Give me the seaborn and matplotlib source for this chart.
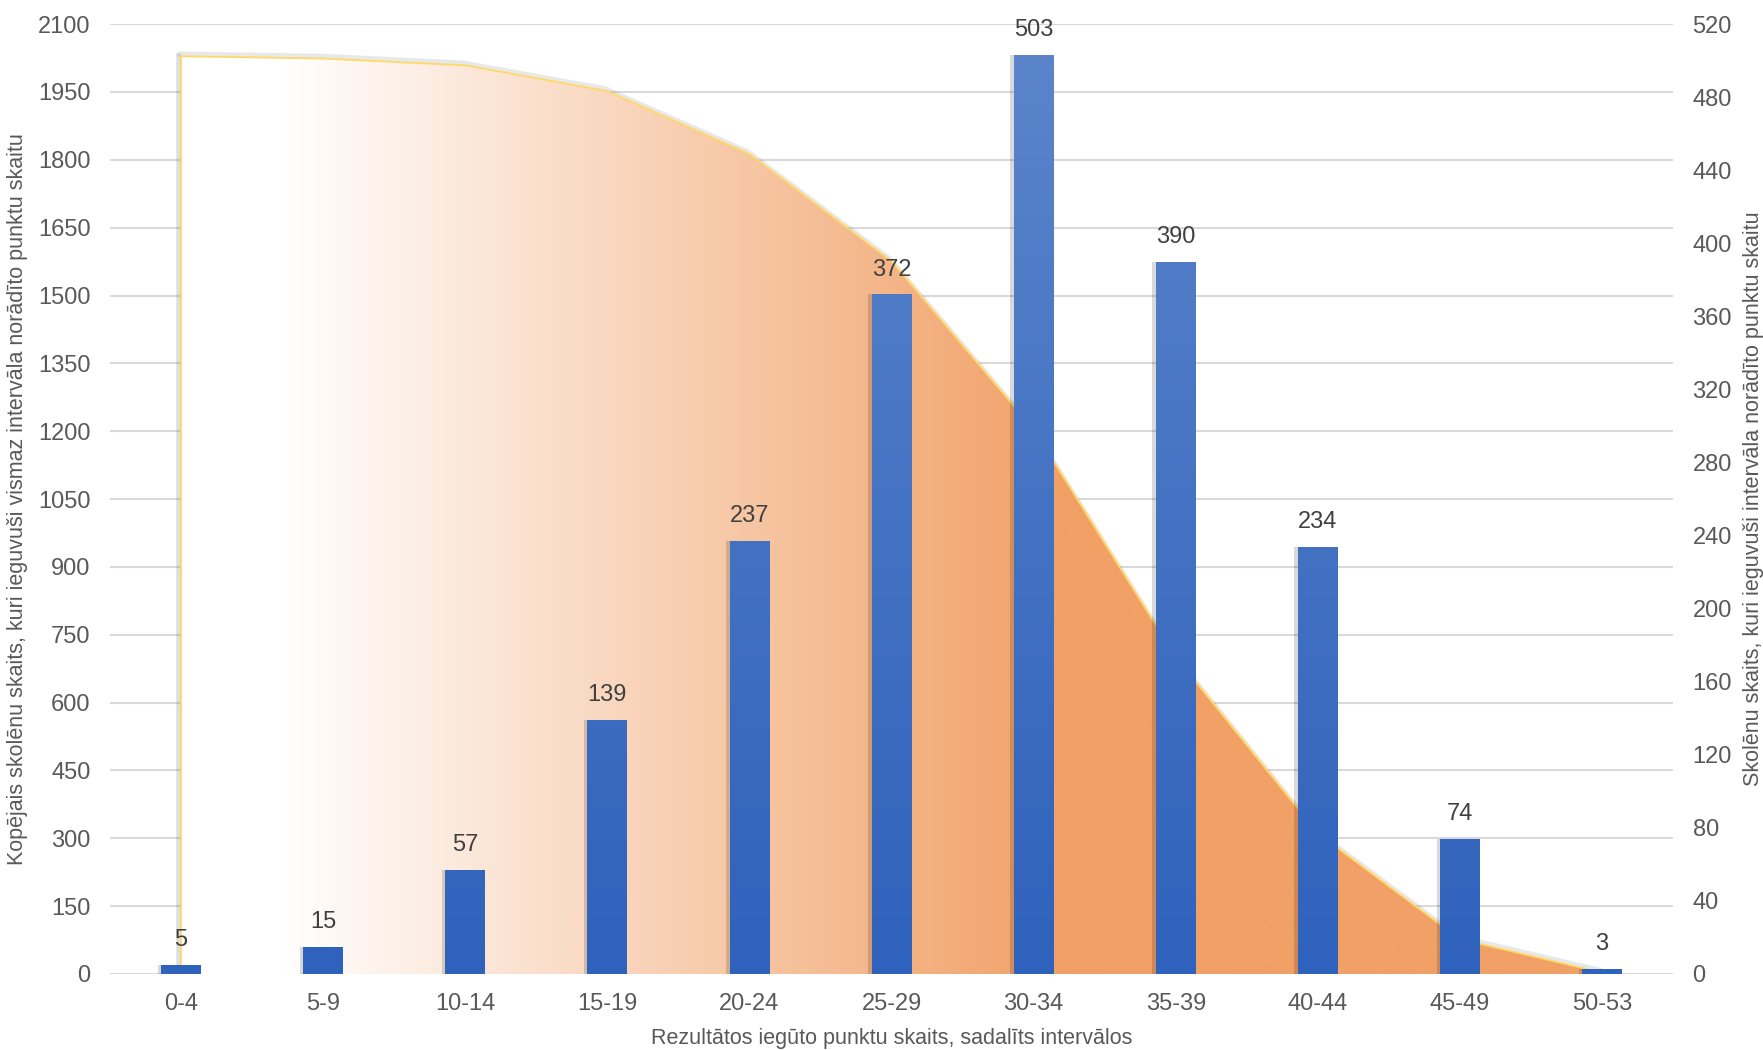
import numpy as np
import matplotlib
matplotlib.use("Agg")
import matplotlib.pyplot as plt
import matplotlib.patheffects as pe
from matplotlib.colors import to_rgb
import seaborn as sns

# --- chart data ---
categories = ["0-4", "5-9", "10-14", "15-19", "20-24", "25-29",
              "30-34", "35-39", "40-44", "45-49", "50-53"]
counts = [5, 15, 57, 139, 237, 372, 503, 390, 234, 74, 3]
at_least = [2029, 2024, 2009, 1952, 1813, 1576, 1204, 701, 311, 77, 3]

left_ticks = list(range(0, 2101, 150))
right_ticks = list(range(0, 521, 40))

left_label = "Kopējais skolēnu skaits, kuri ieguvuši vismaz intervāla norādīto punktu skaitu"
right_label = "Skolēnu skaits, kuri ieguvuši intervāla norādīto punktu skaitu"
x_label = "Rezultātos iegūto punktu skaits, sadalīts intervālos"

TXT = "#595959"

sns.set_style("white")
plt.rcParams['font.family'] = ['Liberation Sans Narrow', 'Liberation Sans', 'DejaVu Sans']

fig, ax = plt.subplots(figsize=(17.63, 10.5), dpi=100)
fig.subplots_adjust(left=0.0624, right=0.949, top=0.977, bottom=0.0724)
ax2 = ax.twinx()

xpos = np.arange(len(categories))

# --- cumulative area (left axis) with horizontal gradient ---
ax.set_xlim(-0.5, len(categories) - 0.5)
ax.set_ylim(0, 2100)

# soft shadow under the edge
ax.plot(xpos, at_least, color="none", zorder=1,
        path_effects=[pe.SimpleLineShadow(offset=(-1.5, 1.5), shadow_color="gray",
                                          alpha=0.18, linewidth=4)])
ax.plot([0, 0], [0, at_least[0]], color="none", zorder=1,
        path_effects=[pe.SimpleLineShadow(offset=(-1.5, 0), shadow_color="gray",
                                          alpha=0.25, linewidth=4)])

poly = ax.fill_between(xpos, 0, at_least, facecolor="none", edgecolor="none", zorder=2)

white = np.array(to_rgb("#FFFFFF"))
orange = np.array(to_rgb("#F1A066"))
gx = np.linspace(-0.5, len(categories) - 0.5, 600)
t = np.clip((gx - 0.7) / (6.2 - 0.7), 0, 1)[:, None]
grad = (white * (1 - t) + orange * t)[None, :, :]
im = ax.imshow(grad, extent=[-0.5, len(categories) - 0.5, 0, 2100],
               aspect="auto", origin="lower", zorder=2, interpolation="bilinear")
im.set_clip_path(poly.get_paths()[0], transform=ax.transData)

ax.plot(xpos, at_least, color="#FFD966", lw=1.3, zorder=3)
ax.plot([0, 0], [0, at_least[0]], color="#FFD966", lw=1.3, zorder=3)

ax.set_yticks(left_ticks)
ax.yaxis.grid(True, color="#D9D9D9", lw=1.5, zorder=0)
ax.set_axisbelow(True)

# --- bars (right axis) ---
sns.barplot(x=categories, y=counts, order=categories, color="#4472C4",
            width=0.28, linewidth=0, ax=ax2, zorder=3)
ax2.set_ylim(0, 520)
ax2.set_yticks(right_ticks)
ax2.grid(False)

top_c = np.array(to_rgb("#5C85CB"))
bot_c = np.array(to_rgb("#2F62BC"))
vt = np.linspace(0, 1, 256)[:, None]
bar_grad = (bot_c * (1 - vt) + top_c * vt)[:, None, :]
for p in ax2.patches:
    p.set_edgecolor("none")
    p.set_path_effects([pe.SimplePatchShadow(offset=(-2.5, 0), shadow_rgbFace="black",
                                             alpha=0.15), pe.Normal()])
    x0, w = p.get_x(), p.get_width()
    bim = ax2.imshow(bar_grad, extent=[x0, x0 + w, 0, 520], aspect="auto",
                     origin="lower", zorder=4)
    bim.set_clip_path(p)

ax2.bar_label(ax2.containers[0], fmt="%d", padding=10, fontsize=17,
              color="#404040", zorder=5)
ax2.set_xlim(-0.5, len(categories) - 0.5)

# --- axes styling ---
for a in (ax, ax2):
    for s in a.spines.values():
        s.set_visible(False)

ax.set_xticks(xpos)
ax.set_xticklabels(categories)
ax.tick_params(axis="x", length=0, pad=14, labelsize=17, labelcolor=TXT)
ax.tick_params(axis="y", length=0, pad=14, labelsize=17, labelcolor=TXT)
ax2.tick_params(axis="y", length=0, pad=14, labelsize=17, labelcolor=TXT)

ax.set_xlabel(x_label, fontsize=15.5, color=TXT, labelpad=9)
ax.set_ylabel(left_label, fontsize=15.5, color=TXT, labelpad=7)
ax2.set_ylabel(right_label, fontsize=15.5, color=TXT, labelpad=8)

fig.savefig("out.png", dpi=100)
